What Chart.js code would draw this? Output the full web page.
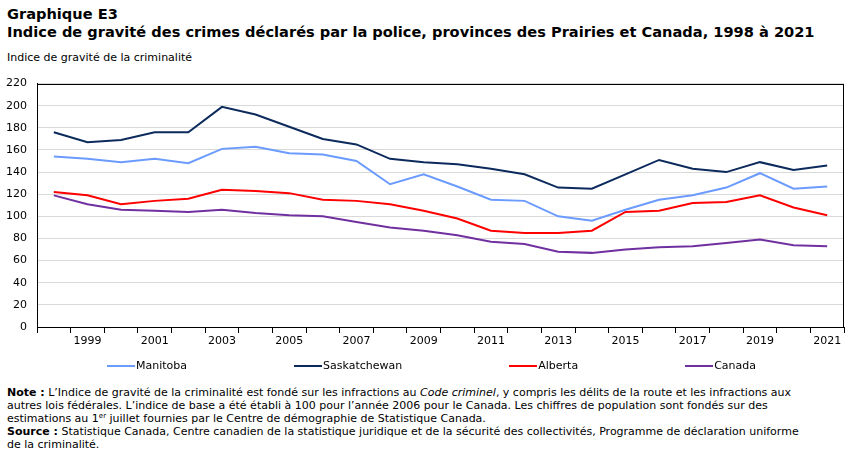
<!DOCTYPE html>
<html lang="fr">
<head>
  <meta charset="UTF-8">
  <title>Graphique E3</title>
  <script src="https://cdn.jsdelivr.net/npm/chart.js"></script>
  <style>
    body {
      margin: 0;
      width: 851px;
      height: 454px;
      background: #fff;
      font-family: "DejaVu Sans", Verdana, sans-serif;
      color: #000;
      position: relative;
      overflow: hidden;
    }
    #titre {
      position: absolute;
      left: 7px;
      top: 5px;
      font-size: 14.6px;
      font-weight: bold;
      line-height: 18px;
      white-space: nowrap;
    }
    #ytitre {
      position: absolute;
      left: 7px;
      top: 51px;
      font-size: 11px;
    }
    #zone {
      position: absolute;
      left: 0;
      top: 67px;
      width: 851px;
      height: 293px;
    }
    #legende {
      position: absolute;
      left: 107px;
      top: 359px;
      display: flex;
      gap: 107px;
      font-size: 11px;
    }
    #legende span.trait {
      display: inline-block;
      width: 28px;
      height: 2px;
      vertical-align: middle;
      margin-right: 1px;
    }
    #notes {
      position: absolute;
      left: 7px;
      top: 386px;
      font-size: 11px;
      line-height: 13px;
      white-space: nowrap;
    }
    #notes sup {
      font-size: 7px;
      line-height: 0;
      vertical-align: 4px;
    }
  </style>
</head>
<body>
  <div id="titre">Graphique E3<br>Indice de gravité des crimes déclarés par la police, provinces des Prairies et Canada, 1998 à 2021</div>
  <div id="ytitre">Indice de gravité de la criminalité</div>
  <div id="zone"><canvas id="graphique"></canvas></div>
  <div id="legende"></div>
  <div id="notes">
    <b>Note :</b> L’Indice de gravité de la criminalité est fondé sur les infractions au <i>Code criminel</i>, y compris les délits de la route et les infractions aux<br>
    autres lois fédérales. L’indice de base a été établi à 100 pour l’année 2006 pour le Canada. Les chiffres de population sont fondés sur des<br>
    estimations au 1<sup>er</sup> juillet fournies par le Centre de démographie de Statistique Canada.<br>
    <b>Source :</b> Statistique Canada, Centre canadien de la statistique juridique et de la sécurité des collectivités, Programme de déclaration uniforme<br>
    de la criminalité.
  </div>

  <script>
    const annees = ['1998','1999','2000','2001','2002','2003','2004','2005','2006','2007','2008','2009',
                    '2010','2011','2012','2013','2014','2015','2016','2017','2018','2019','2020','2021'];
    const manitoba = [154, 152, 149, 152, 148, 161, 163, 157, 156, 150, 129, 138,
                      127, 115, 114, 100, 96, 106, 115, 119, 126, 139, 125, 127];
    const saskatchewan = [176, 167, 169, 176, 176, 199, 192, 181, 170, 165, 152, 149,
                          147, 143, 138, 126, 125, 138, 151, 143, 140, 149, 142, 146];
    const alberta = [122, 119, 111, 114, 116, 124, 123, 121, 115, 114, 111, 105,
                     98, 87, 85, 85, 87, 104, 105, 112, 113, 119, 108, 101];
    const canada = [119, 111, 106, 105, 104, 106, 103, 101, 100, 95, 90, 87,
                    83, 77, 75, 68, 67, 70, 72, 73, 76, 79, 74, 73];

    const series = [
      { nom: 'Manitoba', valeurs: manitoba, couleur: '#6b9bff' },
      { nom: 'Saskatchewan', valeurs: saskatchewan, couleur: '#0c2a5c' },
      { nom: 'Alberta', valeurs: alberta, couleur: '#ff0000' },
      { nom: 'Canada', valeurs: canada, couleur: '#7030a0' }
    ];

    // cadre noir autour de la zone de tracé
    const cadre = {
      id: 'cadre',
      afterDraw(chart) {
        const a = chart.chartArea, ctx = chart.ctx;
        ctx.save();
        ctx.strokeStyle = '#000';
        ctx.lineWidth = 1;
        ctx.strokeRect(Math.round(a.left) + 0.5, Math.round(a.top) + 0.5,
                       Math.round(a.right - a.left) - 1, Math.round(a.bottom - a.top));
        ctx.restore();
      }
    };

    const chart = new Chart(document.getElementById('graphique'), {
      type: 'line',
      data: {
        labels: annees,
        datasets: series.map(s => ({
          label: s.nom,
          data: s.valeurs,
          borderColor: s.couleur,
          backgroundColor: s.couleur,
          borderWidth: 2,
          pointRadius: 0,
          tension: 0
        }))
      },
      options: {
        responsive: true,
        maintainAspectRatio: false,
        animation: false,
        layout: { padding: { top: 8, right: 7, left: 0, bottom: 0 } },
        plugins: {
          legend: { display: false },
          tooltip: { enabled: false }
        },
        scales: {
          x: {
            offset: true,
            grid: { offset: true, drawOnChartArea: false, drawTicks: true, tickLength: 6, color: '#000' },
            border: { color: '#000' },
            ticks: {
              autoSkip: false,
              maxRotation: 0,
              padding: 2,
              color: '#000',
              font: { family: 'DejaVu Sans', size: 11 },
              callback: (v, i) => (i % 2 === 1 ? annees[i] : '')
            },
            afterFit: s => { s.height = 33; }
          },
          y: {
            min: 0,
            max: 220,
            ticks: {
              stepSize: 20,
              padding: 10,
              color: '#000',
              font: { family: 'DejaVu Sans', size: 11 }
            },
            grid: { color: '#d9d9d9', drawTicks: false },
            border: { color: '#000' },
            afterFit: s => { s.width = 37; }
          }
        }
      },
      plugins: [cadre]
    });

    // légende HTML à partir des jeux de données
    const legende = document.getElementById('legende');
    chart.data.datasets.forEach(d => {
      const item = document.createElement('div');
      item.innerHTML = '<span class="trait" style="background:' + d.borderColor + '"></span>' + d.label;
      legende.appendChild(item);
    });
  </script>
</body>
</html>
